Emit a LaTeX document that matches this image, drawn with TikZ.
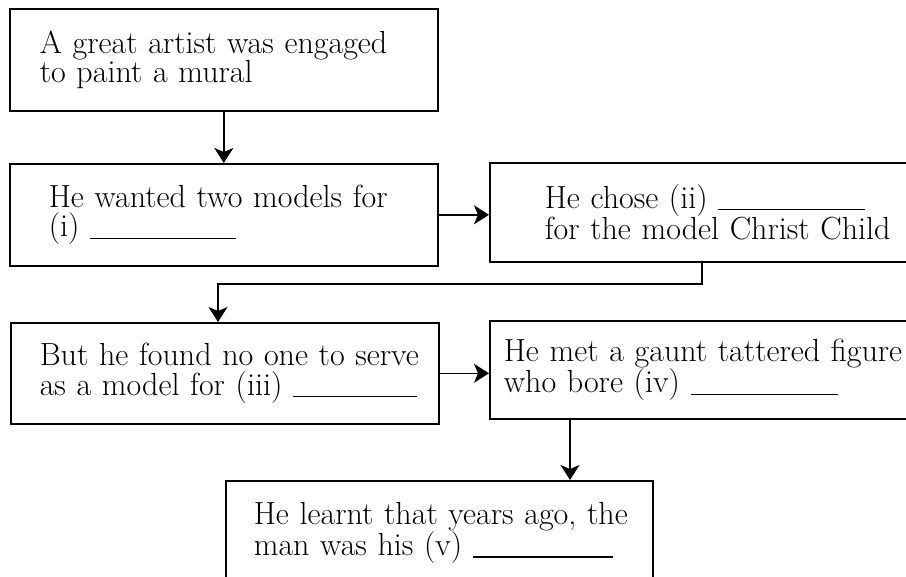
\documentclass[tikz,border=0pt]{standalone}
\usetikzlibrary{arrows.meta}
\newcommand{\answerline}[1][147]{\rule[-2pt]{#1pt}{1.2pt}}
\begin{document}
\begin{tikzpicture}[x=1pt, y=-1pt,
  box/.style={draw, line width=1.6pt, anchor=north west, align=left, inner ysep=0pt,
    font=\fontsize{32}{29.5}\selectfont},
  flow/.style={-{Stealth[length=15pt, width=19pt, inset=4pt]}, line width=1.5pt}]
\useasboundingbox (0,0) rectangle (906,577);
\clip (0,0) rectangle (906,577);

\node[box, minimum width=428, minimum height=102, inner xsep=30, text width=368] (b1) at (9,8)
  {\mbox{A great artist was engaged}\\ to paint a mural};
\node[box, minimum width=428, minimum height=102, inner xsep=39, text width=350] (b2) at (9,163)
  {\mbox{He wanted two models for}\\ (i) \answerline[146]};
\node[box, minimum width=430, minimum height=99, inner xsep=55, text width=320] (b3) at (489,162)
  {\mbox{He chose (ii) \answerline}\\ \mbox{for the model Christ Child}};
\node[box, minimum width=428, minimum height=101, inner xsep=29, text width=370] (b4) at (10,322)
  {\mbox{But he found no one to serve}\\ \mbox{as a model for (iii) \answerline[124]}};
\node[box, minimum width=430, minimum height=98, inner xsep=14, text width=402] (b5) at (489,320)
  {\mbox{He met a gaunt tattered figure}\\ who bore (iv) \answerline};
\node[box, minimum width=427, minimum height=104, inner xsep=28, text width=371] (b6) at (225,480)
  {\mbox{He learnt that years ago, the}\\ \mbox{man was his (v) \answerline[140]}};

\coordinate (elbow) at (218,284);
\coordinate (drop) at ([xshift=81pt]b5.south west);

\draw[flow] (b1.south) -- (b1.south |- b2.north);
\draw[flow] (b2.east) -- (b2.east -| b3.west);
\draw[flow] ([xshift=213pt]b3.south west) |- (elbow) -- (elbow |- b4.north);
\draw[flow] (b4.east) -- (b4.east -| b5.west);
\draw[flow] (drop) -- (drop |- b6.north);
\end{tikzpicture}
\end{document}
